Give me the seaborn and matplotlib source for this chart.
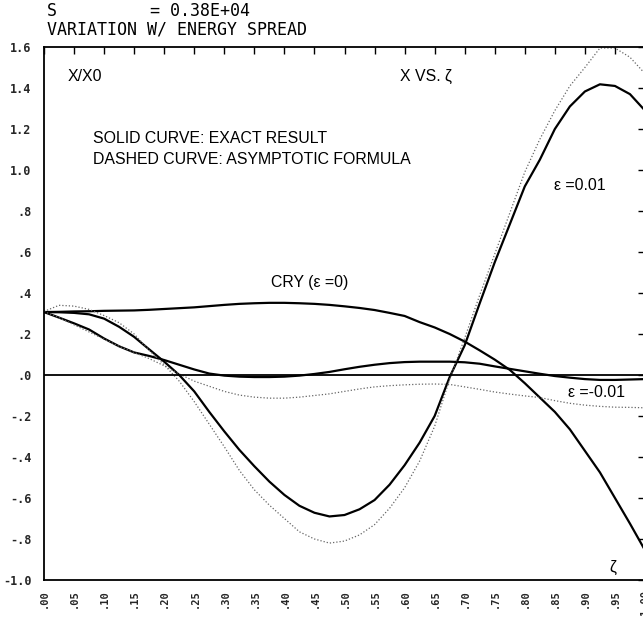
import numpy as np
import pandas as pd
import matplotlib
matplotlib.use("Agg")
import matplotlib.pyplot as plt
import seaborn as sns
from matplotlib import font_manager

# ---------------- data ----------------
zeta = [0.000, 0.025, 0.050, 0.075, 0.100, 0.125, 0.150, 0.175, 0.200, 0.225,
        0.250, 0.275, 0.300, 0.325, 0.350, 0.375, 0.400, 0.425, 0.450, 0.475,
        0.500, 0.525, 0.550, 0.575, 0.600, 0.625, 0.650, 0.675, 0.700, 0.725,
        0.750, 0.775, 0.800, 0.825, 0.850, 0.875, 0.900, 0.925, 0.950, 0.975,
        1.000]

# exact result, eps = +0.01
exact_pos = [0.307, 0.306, 0.303, 0.296, 0.275, 0.235, 0.186, 0.125, 0.065, 0.000,
             -0.080, -0.180, -0.275, -0.365, -0.445, -0.520, -0.585, -0.638, -0.672, -0.690,
             -0.683, -0.655, -0.610, -0.535, -0.440, -0.330, -0.200, -0.010, 0.145, 0.350,
             0.550, 0.735, 0.920, 1.050, 1.200, 1.310, 1.383, 1.418, 1.410, 1.370,
             1.290]
# asymptotic formula, eps = +0.01
asym_pos = [0.310, 0.340, 0.336, 0.320, 0.290, 0.255, 0.200, 0.120, 0.050, -0.030,
            -0.130, -0.240, -0.350, -0.465, -0.560, -0.635, -0.700, -0.765, -0.800, -0.820,
            -0.810, -0.780, -0.730, -0.650, -0.550, -0.420, -0.250, -0.020, 0.180, 0.390,
            0.590, 0.790, 0.990, 1.150, 1.290, 1.410, 1.500, 1.595, 1.595, 1.550,
            1.470]
# exact result, eps = 0 (CRY)
exact_zero = [0.307, 0.308, 0.310, 0.311, 0.313, 0.314, 0.315, 0.318, 0.322, 0.326,
              0.330, 0.336, 0.342, 0.347, 0.350, 0.352, 0.352, 0.350, 0.347, 0.342,
              0.335, 0.327, 0.317, 0.303, 0.288, 0.258, 0.232, 0.200, 0.163, 0.120,
              0.075, 0.025, -0.040, -0.110, -0.180, -0.265, -0.370, -0.475, -0.600, -0.725,
              -0.855]
# exact result, eps = -0.01
exact_neg = [0.307, 0.280, 0.252, 0.222, 0.178, 0.140, 0.110, 0.093, 0.073, 0.050,
             0.027, 0.007, -0.003, -0.008, -0.010, -0.010, -0.008, -0.003, 0.005, 0.015,
             0.028, 0.040, 0.050, 0.058, 0.063, 0.065, 0.065, 0.065, 0.062, 0.055,
             0.042, 0.030, 0.018, 0.006, -0.005, -0.013, -0.020, -0.024, -0.024, -0.022,
             -0.020]
# asymptotic formula, eps = -0.01
asym_neg = [0.310, 0.280, 0.245, 0.210, 0.175, 0.140, 0.110, 0.080, 0.045, 0.005,
            -0.030, -0.055, -0.080, -0.098, -0.108, -0.113, -0.113, -0.108, -0.100, -0.092,
            -0.080, -0.068, -0.058, -0.052, -0.048, -0.045, -0.044, -0.046, -0.058, -0.070,
            -0.083, -0.093, -0.102, -0.110, -0.125, -0.138, -0.147, -0.153, -0.157, -0.158,
            -0.160]

x_ticks = [0.00, 0.05, 0.10, 0.15, 0.20, 0.25, 0.30, 0.35, 0.40, 0.45, 0.50,
           0.55, 0.60, 0.65, 0.70, 0.75, 0.80, 0.85, 0.90, 0.95, 1.00]
x_tick_labels = [".00", ".05", ".10", ".15", ".20", ".25", ".30", ".35", ".40", ".45", ".50",
                 ".55", ".60", ".65", ".70", ".75", ".80", ".85", ".90", ".95", "1.00"]
y_ticks = [1.6, 1.4, 1.2, 1.0, 0.8, 0.6, 0.4, 0.2, 0.0, -0.2, -0.4, -0.6, -0.8, -1.0]
y_tick_labels = ["1.6", "1.4", "1.2", "1.0", ".8", ".6", ".4", ".2", ".0",
                 "-.2", "-.4", "-.6", "-.8", "-1.0"]

# ---------------- style ----------------
sns.set_theme(style="white")
names = {f.name for f in font_manager.fontManager.ttflist}
label_family = "Liberation Sans Narrow" if "Liberation Sans Narrow" in names else "Liberation Sans"
plt.rcParams["font.family"] = ["DejaVu Sans"]

W, H = 643, 620
fig = plt.figure(figsize=(W / 100, H / 100), dpi=100)
ax = fig.add_axes([44 / W, 1 - 580 / H, 601 / W, 533 / H])

series = [
    (exact_pos, "-", "black", 1.6),
    (exact_zero, "-", "black", 1.6),
    (exact_neg, "-", "black", 1.6),
    (asym_pos, (0, (1, 1.6)), "#666666", 0.9),
    (asym_neg, (0, (1, 1.6)), "#666666", 0.9),
]
for vals, ls, col, lw in series:
    df = pd.DataFrame({"zeta": zeta, "x": vals})
    sns.lineplot(data=df, x="zeta", y="x", ax=ax, color=col, linestyle=ls,
                 linewidth=lw, estimator=None, sort=False)

ax.axhline(0.0, color="black", linewidth=1.3)

ax.set_xlim(0, 1.0)
ax.set_ylim(-1.0, 1.6)
ax.set_xlabel("")
ax.set_ylabel("")
ax.set_xticks(x_ticks)
ax.set_xticklabels(x_tick_labels, rotation=90, family="DejaVu Sans Mono",
                   fontsize=7.5, fontweight="bold")
ax.set_yticks(y_ticks)
ax.set_yticklabels(y_tick_labels, family="DejaVu Sans Mono", fontsize=8.5,
                   fontweight="bold")
ax.tick_params(axis="both", which="both", direction="in", length=5, width=1.0,
               color="black", top=True, right=True)
ax.tick_params(axis="x", pad=7)
ax.tick_params(axis="y", pad=9)
for s in ax.spines.values():
    s.set_color("black")
    s.set_linewidth(1.3)
    s.set_visible(True)

tkw = dict(family=label_family, fontsize=11.4, color="black", va="center", ha="left")
ax.text(0.040, 1.454, "X/X0", **tkw)
ax.text(0.593, 1.454, "X VS. ζ", **tkw)
ax.text(0.082, 1.156, "SOLID CURVE: EXACT RESULT", **tkw)
ax.text(0.082, 1.049, "DASHED CURVE: ASYMPTOTIC FORMULA", **tkw)
ax.text(0.848, 0.922, "ε =0.01", **tkw)
ax.text(0.378, 0.449, "CRY (ε =0)", **tkw)
ax.text(0.872, -0.083, "ε =-0.01", **tkw)
ax.text(0.940, -0.937, "ζ", **tkw)

hkw = dict(family="DejaVu Sans Mono", fontsize=12, color="black", va="center", ha="left")
fig.text(47 / W, 1 - 11 / H, "S", **hkw)
fig.text(150 / W, 1 - 11 / H, "= 0.38E+04", **hkw)
fig.text(47 / W, 1 - 30 / H, "VARIATION W/ ENERGY SPREAD", **hkw)

fig.savefig("out.png", dpi=100, facecolor="white")
